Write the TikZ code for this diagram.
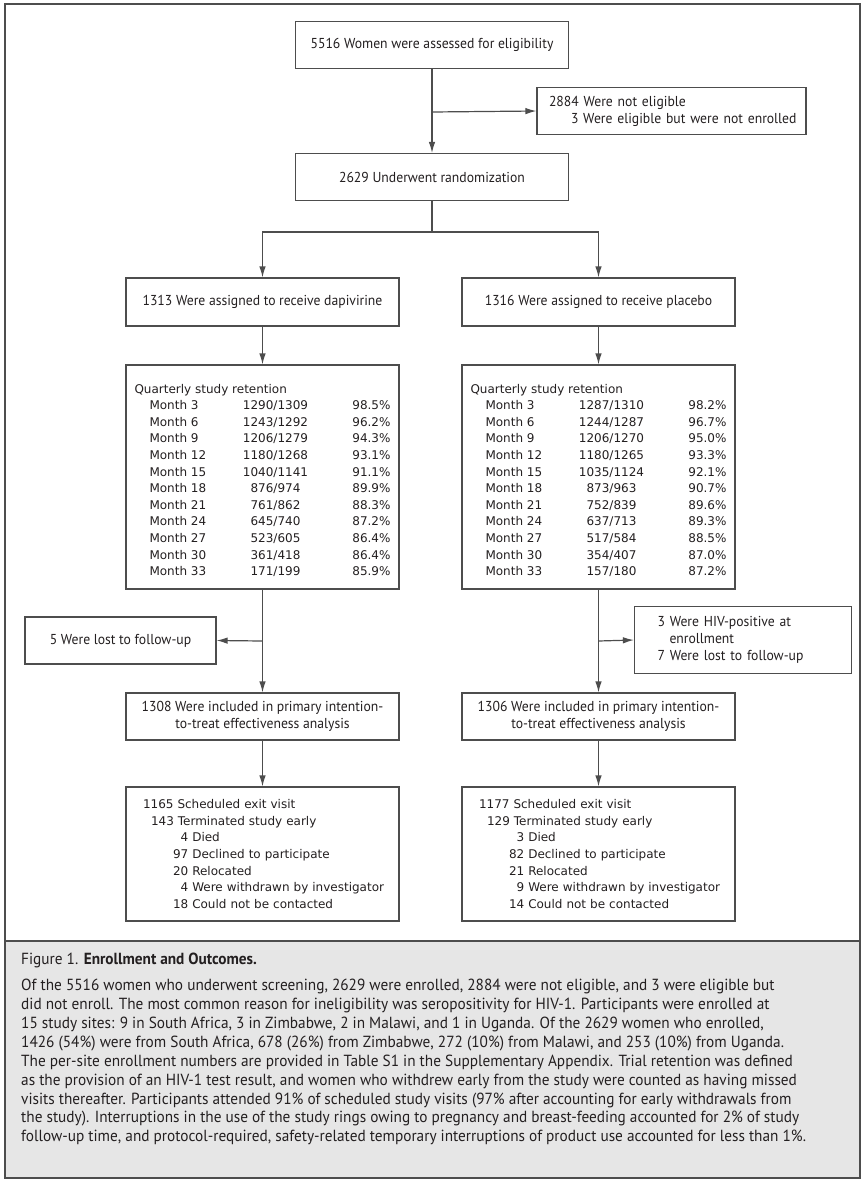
\documentclass[tikz,border=0pt]{standalone}
\usepackage{fontspec}
\usepackage{array}
\setmainfont{PT Sans}
\newfontfamily\condfont[FakeStretch=0.95]{PT Sans}
\newfontfamily\tabfont{DejaVu Sans}
\usepackage{tikz}
\usetikzlibrary{arrows.meta,positioning}

\definecolor{linegray}{HTML}{4D4D4D}
\definecolor{capfill}{HTML}{E6E6E6}
\definecolor{inkblack}{HTML}{231F20}
\newcolumntype{F}{>{\centering\arraybackslash}p{112pt}}
\newcolumntype{P}{>{\raggedleft\arraybackslash}p{59pt}}

\begin{document}
\begin{tikzpicture}[x=1pt,y=-1pt,>={Latex[length=11pt,width=6.5pt]},
  box/.style={draw=linegray,line width=1.2pt,minimum width=273pt,minimum height=47pt,
    inner sep=0pt,text=inkblack,font=\condfont\fontsize{14.4}{17}\selectfont,align=center},
  tabbox/.style={box,font=\tabfont\fontsize{12}{16.6}\selectfont},
  flow/.style={->,draw=linegray,line width=1.2pt},
  link/.style={draw=linegray,line width=1.2pt}]
\useasboundingbox (0,0) rectangle (863,1181);
% frame and caption panel
\filldraw[fill=capfill,draw=linegray,line width=1.6pt] (5,941) rectangle (860,1178);
\draw[linegray,line width=1.6pt] (5,4) rectangle (860,1178);

% screening
\node[box] (assess) at (432,45) {5516 Women were assessed for eligibility};
\node[box,minimum width=269pt,text width=255pt,inner xsep=7pt,align=left] (excl) at (671.5,111)
  {\hspace*{5pt}2884 Were not eligible\\\hspace*{27pt}3 Were eligible but were not enrolled};
\node[box] (rand) at (432,177) {2629 Underwent randomization};
\coordinate (exsplit) at (432,112);
\draw[flow] (assess) -- (rand);
\draw[flow] (exsplit) -- (excl.west);

% arms
\node[box,minimum height=48pt] (armL) at (262.5,302) {1313 Were assigned to receive dapivirine};
\node[box,minimum height=48pt] (armR) at (598.5,302) {1316 Were assigned to receive placebo};
\coordinate (split) at (432,232);
\draw[link] (rand) -- (split);
\draw[flow] (split) -| (armL.north);
\draw[flow] (split) -| (armR.north);

% retention
\node[tabbox,minimum height=224pt] (retL) at (262.5,477) {\begin{tabular}{@{\hspace{15pt}}p{70pt}@{}F@{}P@{}}
\multicolumn{3}{@{}l@{}}{\rule{0pt}{19.6pt}Quarterly study retention}\\
Month 3 & 1290/1309 & 98.5\%\\
Month 6 & 1243/1292 & 96.2\%\\
Month 9 & 1206/1279 & 94.3\%\\
Month 12 & 1180/1268 & 93.1\%\\
Month 15 & 1040/1141 & 91.1\%\\
Month 18 & 876/974 & 89.9\%\\
Month 21 & 761/862 & 88.3\%\\
Month 24 & 645/740 & 87.2\%\\
Month 27 & 523/605 & 86.4\%\\
Month 30 & 361/418 & 86.4\%\\
Month 33 & 171/199 & 85.9\%
\end{tabular}};
\node[tabbox,minimum height=224pt] (retR) at (598.5,477) {\begin{tabular}{@{\hspace{15pt}}p{70pt}@{}F@{}P@{}}
\multicolumn{3}{@{}l@{}}{\rule{0pt}{19.6pt}Quarterly study retention}\\
Month 3 & 1287/1310 & 98.2\%\\
Month 6 & 1244/1287 & 96.7\%\\
Month 9 & 1206/1270 & 95.0\%\\
Month 12 & 1180/1265 & 93.3\%\\
Month 15 & 1035/1124 & 92.1\%\\
Month 18 & 873/963 & 90.7\%\\
Month 21 & 752/839 & 89.6\%\\
Month 24 & 637/713 & 89.3\%\\
Month 27 & 517/584 & 88.5\%\\
Month 30 & 354/407 & 87.0\%\\
Month 33 & 157/180 & 87.2\%
\end{tabular}};
\draw[flow] (armL) -- (retL);
\draw[flow] (armR) -- (retR);

% losses
\node[box,minimum width=191pt] (lostL) at (120.5,640.5) {5 Were lost to follow-up};
\node[box,minimum width=194pt,minimum height=67pt,text width=171pt,inner xsep=23pt,align=left] (lostR) at (743,640)
  {3 Were HIV-positive at\\\hspace*{12pt}enrollment\\7 Were lost to follow-up};
\coordinate (lossL) at (262.5,641);
\coordinate (lossR) at (598.5,641);
\draw[flow] (lossL) -- (lostL.east);
\draw[flow] (lossR) -- (lostR.west);

% analysis
\node[box] (ittL) at (262.5,716.5) {1308 Were included in primary intention-\\to-treat effectiveness analysis};
\node[box] (ittR) at (598.5,716.5) {1306 Were included in primary intention-\\to-treat effectiveness analysis};
\draw[flow] (retL) -- (ittL);
\draw[flow] (retR) -- (ittR);

% exit
\node[tabbox,minimum height=134pt,text width=250pt,inner xsep=11.5pt,align=left] (exitL) at (262.5,854)
  {\hspace*{5.5pt}1165 Scheduled exit visit\\
   \hspace*{13.5pt}143 Terminated study early\\
   \hspace*{35.5pt}\phantom{0}4 Died\\
   \hspace*{35.5pt}97 Declined to participate\\
   \hspace*{35.5pt}20 Relocated\\
   \hspace*{35.5pt}\phantom{0}4 Were withdrawn by investigator\\
   \hspace*{35.5pt}18 Could not be contacted};
\node[tabbox,minimum height=134pt,text width=250pt,inner xsep=11.5pt,align=left] (exitR) at (598.5,854)
  {\hspace*{5.5pt}1177 Scheduled exit visit\\
   \hspace*{13.5pt}129 Terminated study early\\
   \hspace*{35.5pt}\phantom{0}3 Died\\
   \hspace*{35.5pt}82 Declined to participate\\
   \hspace*{35.5pt}21 Relocated\\
   \hspace*{35.5pt}\phantom{0}9 Were withdrawn by investigator\\
   \hspace*{35.5pt}14 Could not be contacted};
\draw[flow] (ittL) -- (exitL);
\draw[flow] (ittR) -- (exitR);

% caption
\node[anchor=north west,align=left,inner sep=0pt,text=inkblack,
  font=\condfont\fontsize{16.1}{18.9}\selectfont] (caption) at (21,953)
  {Figure 1. \textbf{Enrollment and Outcomes.}\\[7pt]
Of the 5516 women who underwent screening, 2629 were enrolled, 2884 were not eligible, and 3 were eligible but\\
did not enroll. The most common reason for ineligibility was seropositivity for HIV-1. Participants were enrolled at\\
15 study sites: 9 in South Africa, 3 in Zimbabwe, 2 in Malawi, and 1 in Uganda. Of the 2629 women who enrolled,\\
1426 (54\%) were from South Africa, 678 (26\%) from Zimbabwe, 272 (10\%) from Malawi, and 253 (10\%) from Uganda.\\
The per-site enrollment numbers are provided in Table S1 in the Supplementary Appendix. Trial retention was defined\\
as the provision of an HIV-1 test result, and women who withdrew early from the study were counted as having missed\\
visits thereafter. Participants attended 91\% of scheduled study visits (97\% after accounting for early withdrawals from\\
the study). Interruptions in the use of the study rings owing to pregnancy and breast-feeding accounted for 2\% of study\\
follow-up time, and protocol-required, safety-related temporary interruptions of product use accounted for less than 1\%.};
\end{tikzpicture}
\end{document}
